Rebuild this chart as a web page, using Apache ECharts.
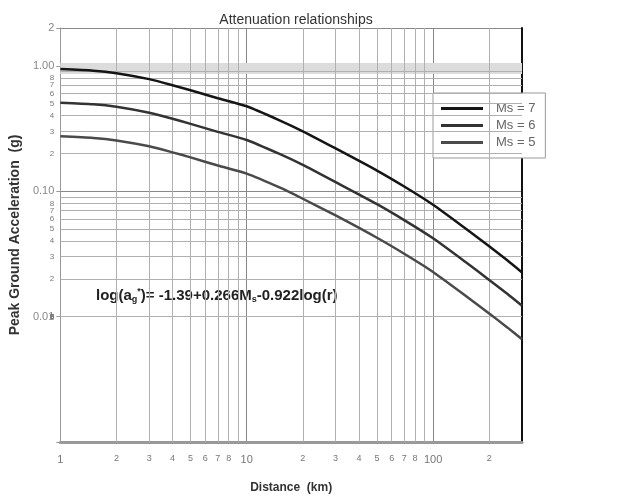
<!DOCTYPE html>
<html>
<head>
<meta charset="utf-8">
<script src="https://cdn.jsdelivr.net/npm/echarts@6/dist/echarts.min.js"></script>
<style>
  html, body { margin: 0; padding: 0; background: #fff; }
  #chart { width: 624px; height: 499px; }
</style>
</head>
<body>
<div id="chart"></div>
<script>
// distance (km) and PGA (g)
var distances = [1, 1.5, 2, 3, 4, 5, 7, 10, 15, 20, 30, 50, 70, 100, 150, 200, 250, 300];
var ms7 = [0.94, 0.914, 0.873, 0.782, 0.70, 0.638, 0.551, 0.475, 0.367, 0.30, 0.219, 0.146, 0.109, 0.078, 0.0502, 0.0364, 0.0281, 0.0225];
var ms6 = [0.507, 0.493, 0.471, 0.422, 0.378, 0.344, 0.297, 0.256, 0.198, 0.162, 0.118, 0.0788, 0.0588, 0.0421, 0.0271, 0.0196, 0.0152, 0.0122];
var ms5 = [0.274, 0.266, 0.254, 0.228, 0.204, 0.186, 0.160, 0.138, 0.107, 0.087, 0.064, 0.0425, 0.0317, 0.0227, 0.0146, 0.0106, 0.0082, 0.0066];
var seriesNames = ['Ms = 7', 'Ms = 6', 'Ms = 5'];

// minor grid lines and their small labels
var xMinor = [2, 3, 4, 5, 6, 7, 8, 9, 20, 30, 40, 50, 60, 70, 80, 90, 200];
var xMinorLabels = ['2', '3', '4', '5', '6', '7', '8', '', '2', '3', '4', '5', '6', '7', '8', '', '2'];
var yMinor = [0.002, 0.003, 0.004, 0.005, 0.006, 0.007, 0.008, 0.009,
  0.02, 0.03, 0.04, 0.05, 0.06, 0.07, 0.08, 0.09,
  0.2, 0.3, 0.4, 0.5, 0.6, 0.7, 0.8, 0.9];
var yMinorLabels = ['2', '3', '4', '5', '6', '7', '8', '',
  '2', '3', '4', '5', '6', '7', '8', '',
  '2', '3', '4', '5', '6', '7', '8', ''];

function pairs(vals) {
  return distances.map(function (d, i) {
    return [d, vals[i]];
  });
}

var gridLines = [];
xMinor.forEach(function (v, i) {
  gridLines.push({
    xAxis: v,
    label: { show: true, position: 'start', distance: 12, formatter: xMinorLabels[i], color: '#777', fontSize: 9 },
  });
});
yMinor.forEach(function (v, i) {
  gridLines.push({
    yAxis: v,
    label: { show: true, position: 'start', distance: 6, formatter: yMinorLabels[i], color: '#777', fontSize: 8 },
  });
});

var lineColors = ['#151515', '#333333', '#4a4a4a'];

// one line series per magnitude
function curve(name, vals, color) {
  return {
    name: name,
    type: 'line',
    data: pairs(vals),
    smooth: 0.2,
    showSymbol: false,
    color: color,
    lineStyle: { width: 2.5 },
    z: 5,
  };
}

var option = {
  animation: false,
  title: {
    text: 'Attenuation relationships',
    left: 291,
    textAlign: 'center',
    top: 8,
    textStyle: { fontSize: 14, fontWeight: 'normal', color: '#333', fontFamily: 'Liberation Sans' },
  },
  legend: {
    data: seriesNames,
    orient: 'vertical',
    left: 433,
    top: 93,
    padding: [9, 10, 9, 8],
    itemGap: 4,
    itemWidth: 42,
    itemHeight: 3,
    icon: 'rect',
    backgroundColor: '#fff',
    borderColor: '#999',
    borderWidth: 1,
    borderRadius: 0,
    textStyle: { fontSize: 13, color: '#666', fontFamily: 'Liberation Sans', padding: [0, 0, 0, 8] },
  },
  grid: { left: 59, right: 102, top: 28, bottom: 56 },
  xAxis: {
    type: 'log',
    logBase: 10,
    min: 1,
    max: 300,
    name: 'Distance  (km)',
    nameLocation: 'middle',
    nameGap: 40,
    nameTextStyle: { fontSize: 12, fontWeight: 'bold', color: '#333', fontFamily: 'Liberation Sans' },
    axisLine: { lineStyle: { color: '#999', width: 3 } },
    axisTick: { show: false },
    axisLabel: {
      showMaxLabel: false,
      margin: 12,
      fontSize: 11,
      color: '#777',
      formatter: function (v) {
        return String(Math.round(v));
      },
    },
    splitLine: { show: true, lineStyle: { color: '#888', width: 1 } },
  },
  yAxis: [
    {
      type: 'log',
      logBase: 10,
      min: 0.001,
      max: 2,
      name: 'Peak Ground Acceleration  (g)',
      nameLocation: 'middle',
      nameGap: 37,
      nameTextStyle: { fontSize: 14, color: '#333', fontWeight: 'bold', fontFamily: 'Liberation Sans' },
      axisLine: { show: true, lineStyle: { color: '#999', width: 1 } },
      axisTick: { show: true, length: 4, lineStyle: { color: '#999' } },
      axisLabel: {
        fontSize: 11,
        color: '#888',
        margin: 6,
        formatter: function (v) {
          if (Math.abs(v - 1) < 1e-6) return '1.00';
          if (Math.abs(v - 0.1) < 1e-6) return '0.10';
          if (Math.abs(v - 0.01) < 1e-7) return '0.01';
          if (Math.abs(v - 2) < 1e-6) return '2';
          return '';
        },
      },
      splitLine: { show: true, lineStyle: { color: '#888', width: 1 } },
    },
    {
      type: 'log',
      logBase: 10,
      min: 0.001,
      max: 2,
      position: 'right',
      axisLine: { show: true, lineStyle: { color: '#111', width: 2 } },
      axisTick: { show: false },
      axisLabel: { show: false },
      splitLine: { show: false },
    },
  ],
  graphic: [
    {
      type: 'text',
      left: 96,
      top: 287,
      style: {
        text: 'log(a{sub|g}{sup|*})= -1.39+0.266M{sub|s}-0.922log(r)',
        fill: '#222',
        font: 'bold 15px "Liberation Sans"',
        rich: {
          sub: { fontSize: 9, fontWeight: 'bold', verticalAlign: 'bottom', padding: [8, 0, 0, 0] },
          sup: { fontSize: 9, fontWeight: 'bold', verticalAlign: 'top' },
        },
      },
    },
  ],
  series: [
    {
      name: 'grid',
      type: 'line',
      data: [],
      silent: true,
      markLine: {
        silent: true,
        symbol: 'none',
        lineStyle: { color: '#b0b0b0', width: 1, type: 'solid' },
        data: gridLines,
      },
      markArea: {
        silent: true,
        itemStyle: { color: '#dcdcdc' },
        data: [[{ yAxis: 0.86 }, { yAxis: 1.05 }]],
      },
    },
    curve(seriesNames[0], ms7, lineColors[0]),
    curve(seriesNames[1], ms6, lineColors[1]),
    curve(seriesNames[2], ms5, lineColors[2]),
  ],
};

var chart = echarts.init(document.getElementById('chart'));
chart.setOption(option);
</script>
</body>
</html>
